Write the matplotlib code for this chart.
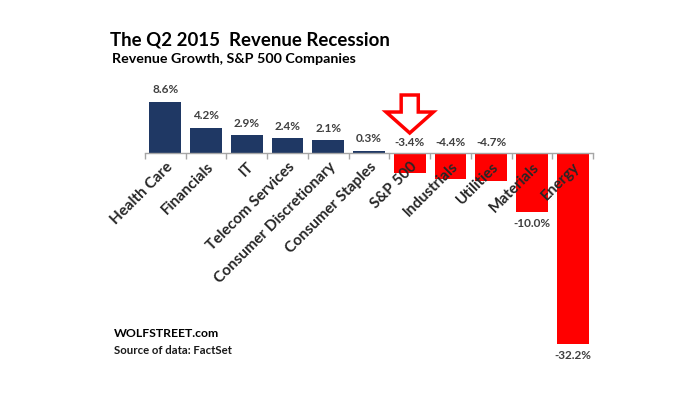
import matplotlib
matplotlib.use("Agg")
import matplotlib.pyplot as plt
from matplotlib.patches import Polygon
import numpy as np

categories = ["Health Care", "Financials", "IT", "Telecom Services",
              "Consumer Discretionary", "Consumer Staples", "S&P 500",
              "Industrials", "Utilities", "Materials", "Energy"]
values = [8.6, 4.2, 2.9, 2.4, 2.1, 0.3, -3.4, -4.4, -4.7, -10.0, -32.2]
value_labels = ["8.6%", "4.2%", "2.9%", "2.4%", "2.1%", "0.3%",
                "-3.4%", "-4.4%", "-4.7%", "-10.0%", "-32.2%"]
highlight = "S&P 500"

NAVY = "#1F3864"
RED = "#FF0000"
TXT = "#262626"

plt.rcParams['font.family'] = ['Lato', 'DejaVu Sans']

fig = plt.figure(figsize=(7, 3.93), dpi=100)
ax = fig.add_axes([145/700, 0.0664, (593-145)/700, 0.6964])
ax.set_axisbelow(False)

x = np.arange(len(categories))
colors = [NAVY if v >= 0 else RED for v in values]
ax.bar(x, values, width=0.78, color=colors, zorder=1)

ax.set_xlim(-0.5, len(categories) - 0.5)
ax.set_ylim(-36, 10)

for s in ["left", "right", "top"]:
    ax.spines[s].set_visible(False)
ax.spines["bottom"].set_position(("data", 0))
ax.spines["bottom"].set_color("#A6A6A6")
ax.spines["bottom"].set_linewidth(1.0)
ax.spines["bottom"].set_zorder(3)
ax.set_yticks([])

ax.set_xticks(x)
ax.set_xticklabels(categories, rotation=45, ha="right", rotation_mode="anchor",
                   fontsize=11, fontweight="bold", color=TXT)
ax.tick_params(axis="x", which="major", length=0, pad=5)
ax.set_xticks(np.arange(-0.5, len(categories), 1.0), minor=True)
ax.tick_params(axis="x", which="minor", length=4, width=1, color="#A6A6A6", direction="out")

for i, (v, lab) in enumerate(zip(values, value_labels)):
    if v >= 0:
        ax.annotate(lab, (i, v), xytext=(0, 8.6), textcoords="offset points",
                    ha="center", va="center", fontsize=8.5, fontweight="bold", color="#404040")
    elif v > -5:
        ax.annotate(lab, (i, 0), xytext=(0, 7), textcoords="offset points",
                    ha="center", va="center", fontsize=8.5, fontweight="bold", color="#404040")
    else:
        ax.annotate(lab, (i, v), xytext=(0, -8), textcoords="offset points",
                    ha="center", va="center", fontsize=8.5, fontweight="bold", color="#404040")

# highlight arrow over S&P 500
hi = categories.index(highlight)
arrow = Polygon([(hi - 0.21, 9.7), (hi + 0.21, 9.7), (hi + 0.21, 6.84),
                 (hi + 0.58, 6.84), (hi, 3.31), (hi - 0.58, 6.84), (hi - 0.21, 6.84)],
                closed=True, facecolor="white", edgecolor=RED, linewidth=2.5,
                clip_on=False, zorder=4)
ax.add_patch(arrow)

fig.text(110/700, 1 - 45/393, "The Q2 2015  Revenue Recession", fontsize=13.4,
         fontweight="bold", color="black", ha="left", va="baseline")
fig.text(112/700, 1 - 63/393, "Revenue Growth, S&P 500 Companies", fontsize=10.3,
         fontweight="bold", color="black", ha="left", va="baseline")
fig.text(114/700, 1 - 336.7/393, "WOLFSTREET.com", fontsize=8.8,
         fontweight="bold", color="black", ha="left", va="baseline")
fig.text(114/700, 1 - 354/393, "Source of data: FactSet", fontsize=8.2,
         fontweight="bold", color="#1a1a1a", ha="left", va="baseline")

fig.savefig("out.png", dpi=100)
